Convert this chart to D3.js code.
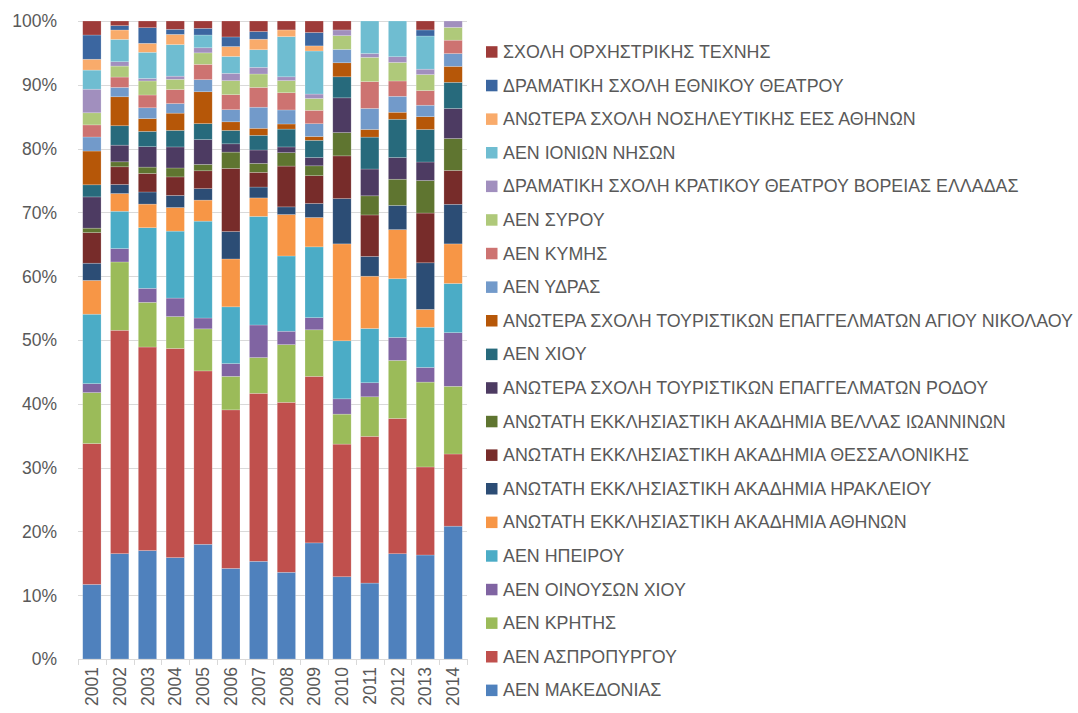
<!DOCTYPE html>
<html>
<head>
  <meta charset="UTF-8">
  <style>
    body { margin: 0; background: #fff; }
    svg { display: block; }
    text { font-family: "Liberation Sans", Arial, sans-serif; fill: #595959; }
  </style>
</head>
<body>
  <svg id="chart" width="1078" height="713"></svg>
  <script src="https://d3js.org/d3.v7.min.js"></script>
  <script>
    // years on the x axis
    var years = ["2001","2002","2003","2004","2005","2006","2007","2008","2009","2010","2011","2012","2013","2014"];
    var yTicks = [0, 0.1, 0.2, 0.3, 0.4, 0.5, 0.6, 0.7, 0.8, 0.9, 1];

    // shares (%) per school, bottom of the stack first
    var makedonias   = [11.7, 16.5, 17.0, 15.9, 18.0, 14.2, 15.3, 13.6, 18.2, 12.9, 11.9, 16.5, 16.3, 20.8];
    var aspropyrgou  = [22.1, 35.0, 31.9, 32.8, 27.2, 24.85, 26.3, 26.65, 26.1, 20.8, 23.0, 21.2, 13.8, 11.3];
    var kritis       = [8.0, 10.7, 7.0, 5.0, 6.6, 5.25, 5.6, 9.05, 7.3, 4.7, 6.2, 9.1, 13.3, 10.6];
    var oinousson    = [1.4, 2.1, 2.2, 2.9, 1.7, 2.0, 5.1, 2.1, 1.9, 2.4, 2.2, 3.6, 2.3, 8.4];
    var ipeirou      = [10.9, 5.85, 9.5, 10.5, 15.2, 8.9, 17.0, 11.8, 11.1, 9.1, 8.5, 9.2, 6.3, 7.7];
    var ekklAthinon  = [5.3, 2.77, 3.7, 3.7, 3.3, 7.5, 2.9, 6.5, 4.6, 15.2, 8.2, 7.7, 2.8, 6.2];
    var ekklIrakl    = [2.7, 1.42, 1.9, 1.9, 1.8, 4.3, 1.7, 1.2, 2.2, 7.1, 3.1, 3.8, 7.3, 6.2];
    var ekklThess    = [4.8, 2.77, 2.9, 2.9, 2.8, 9.9, 2.3, 6.4, 4.35, 6.7, 6.5, 0, 7.8, 5.3];
    var ekklVellas   = [0.7, 0.78, 1.0, 1.4, 1.0, 2.55, 1.4, 2.1, 1.55, 3.65, 3.0, 4.1, 5.1, 5.0];
    var tourRodou    = [4.9, 2.61, 3.2, 3.3, 3.9, 1.3, 2.1, 0.9, 1.3, 5.45, 4.2, 3.4, 2.9, 4.7];
    var chiou        = [1.9, 3.04, 2.4, 2.6, 2.5, 2.1, 2.3, 2.8, 2.7, 3.3, 5.0, 6.0, 5.1, 4.1];
    var tourAgNik    = [5.3, 4.54, 2.0, 2.7, 5.0, 1.35, 1.1, 0.8, 0.6, 2.2, 1.2, 1.1, 2.0, 2.5];
    var ydras        = [2.2, 1.47, 1.7, 1.5, 1.9, 1.9, 3.3, 2.2, 2.0, 2.1, 3.3, 2.5, 1.8, 2.0];
    var kymis        = [1.9, 1.62, 2.0, 2.2, 2.4, 2.35, 3.1, 2.7, 2.1, 0, 4.2, 2.4, 2.3, 2.1];
    var syrou        = [1.9, 1.72, 2.2, 1.6, 1.8, 2.2, 2.1, 1.9, 1.85, 2.15, 3.8, 2.9, 2.5, 2.0];
    var dramKratikou = [3.7, 0.68, 0.4, 0.5, 0.8, 1.15, 1.05, 0.6, 0.7, 0.9, 0.6, 0.9, 0.85, 1.0];
    var ionion       = [3.0, 3.5, 4.1, 4.95, 2.0, 2.65, 2.75, 6.3, 6.75, 0, 5.1, 5.6, 5.2, 0];
    var nosileftikis = [1.7, 1.47, 1.4, 1.6, 0, 1.55, 1.65, 1.05, 0.8, 0, 0, 0, 0, 0];
    var dramEthnikou = [3.8, 0.68, 2.45, 0.8, 1.05, 1.5, 1.2, 0, 2.1, 0, 0, 0, 0.95, 0];
    var orchistrikis = [2.2, 0.73, 1.05, 1.3, 1.15, 2.5, 1.65, 1.4, 1.8, 1.4, 0, 0, 1.4, 0];

    var seriesNames = [
      "ΑΕΝ ΜΑΚΕΔΟΝΙΑΣ",
      "ΑΕΝ ΑΣΠΡΟΠΥΡΓΟΥ",
      "ΑΕΝ ΚΡΗΤΗΣ",
      "ΑΕΝ ΟΙΝΟΥΣΩΝ ΧΙΟΥ",
      "ΑΕΝ ΗΠΕΙΡΟΥ",
      "ΑΝΩΤΑΤΗ ΕΚΚΛΗΣΙΑΣΤΙΚΗ ΑΚΑΔΗΜΙΑ ΑΘΗΝΩΝ",
      "ΑΝΩΤΑΤΗ ΕΚΚΛΗΣΙΑΣΤΙΚΗ ΑΚΑΔΗΜΙΑ ΗΡΑΚΛΕΙΟΥ",
      "ΑΝΩΤΑΤΗ ΕΚΚΛΗΣΙΑΣΤΙΚΗ ΑΚΑΔΗΜΙΑ ΘΕΣΣΑΛΟΝΙΚΗΣ",
      "ΑΝΩΤΑΤΗ ΕΚΚΛΗΣΙΑΣΤΙΚΗ ΑΚΑΔΗΜΙΑ ΒΕΛΛΑΣ ΙΩΑΝΝΙΝΩΝ",
      "ΑΝΩΤΕΡΑ ΣΧΟΛΗ ΤΟΥΡΙΣΤΙΚΩΝ ΕΠΑΓΓΕΛΜΑΤΩΝ ΡΟΔΟΥ",
      "ΑΕΝ ΧΙΟΥ",
      "ΑΝΩΤΕΡΑ ΣΧΟΛΗ ΤΟΥΡΙΣΤΙΚΩΝ ΕΠΑΓΓΕΛΜΑΤΩΝ ΑΓΙΟΥ ΝΙΚΟΛΑΟΥ",
      "ΑΕΝ ΥΔΡΑΣ",
      "ΑΕΝ ΚΥΜΗΣ",
      "ΑΕΝ ΣΥΡΟΥ",
      "ΔΡΑΜΑΤΙΚΗ ΣΧΟΛΗ ΚΡΑΤΙΚΟΥ ΘΕΑΤΡΟΥ ΒΟΡΕΙΑΣ ΕΛΛΑΔΑΣ",
      "ΑΕΝ ΙΟΝΙΩΝ ΝΗΣΩΝ",
      "ΑΝΩΤΕΡΑ ΣΧΟΛΗ ΝΟΣΗΛΕΥΤΙΚΗΣ ΕΕΣ ΑΘΗΝΩΝ",
      "ΔΡΑΜΑΤΙΚΗ ΣΧΟΛΗ ΕΘΝΙΚΟΥ ΘΕΑΤΡΟΥ",
      "ΣΧΟΛΗ ΟΡΧΗΣΤΡΙΚΗΣ ΤΕΧΝΗΣ"
    ];
    var seriesValues = [makedonias, aspropyrgou, kritis, oinousson, ipeirou, ekklAthinon, ekklIrakl,
      ekklThess, ekklVellas, tourRodou, chiou, tourAgNik, ydras, kymis, syrou, dramKratikou,
      ionion, nosileftikis, dramEthnikou, orchistrikis];
    var colors = ["#4F81BD", "#C0504D", "#9BBB59", "#8064A2", "#4BACC6", "#F79646",
      "#2C4D75", "#772C2A", "#5F7530", "#4D3B62", "#276A7C", "#B65708",
      "#729ACA", "#CD7371", "#AFC97A", "#A18FBE", "#6FBDD1", "#F9AB6B",
      "#3B66A0", "#9E3B39"];

    // rows for d3.stack
    var rows = years.map(function(y, i) {
      var r = { year: y };
      seriesNames.forEach(function(n, k) { r[n] = seriesValues[k][i]; });
      return r;
    });

    var svg = d3.select("#chart");
    var plotLeft = 78, plotRight = 467, plotTop = 21, plotBottom = 659;

    var x = d3.scaleBand().domain(years).range([plotLeft, plotRight]).paddingInner(0.34).paddingOuter(0.17);
    var y = d3.scaleLinear().domain([0, 1]).range([plotBottom, plotTop]);
    var color = d3.scaleOrdinal().domain(seriesNames).range(colors);

    // gridlines
    svg.append("g").selectAll("line").data(yTicks.slice(1)).join("line")
      .attr("x1", plotLeft).attr("x2", plotRight)
      .attr("y1", function(d) { return Math.round(y(d)) + 0.5; })
      .attr("y2", function(d) { return Math.round(y(d)) + 0.5; })
      .attr("stroke", "#d9d9d9").attr("stroke-width", 1);

    // y labels
    svg.append("g").selectAll("text").data(yTicks).join("text")
      .attr("x", 57).attr("y", function(d) { return y(d); })
      .attr("dy", "0.36em").attr("text-anchor", "end")
      .style("font-size", "17.5px")
      .text(d3.format(".0%"));

    var stack = d3.stack().keys(seriesNames).offset(d3.stackOffsetExpand);
    var layers = stack(rows);

    svg.append("g").selectAll("g").data(layers).join("g")
      .attr("fill", function(d) { return color(d.key); })
      .selectAll("rect").data(function(d) { return d; }).join("rect")
      .attr("x", function(d) { return x(d.data.year); })
      .attr("width", x.bandwidth())
      .attr("y", function(d) { return y(d[1]); })
      .attr("height", function(d) { return Math.max(0, y(d[0]) - y(d[1])); })
      .attr("stroke", "rgba(255,255,255,0.35)").attr("stroke-width", 0.6);

    // x axis
    var xAxis = svg.append("g");
    xAxis.append("line").attr("x1", plotLeft).attr("x2", plotRight)
      .attr("y1", plotBottom + 0.5).attr("y2", plotBottom + 0.5)
      .attr("stroke", "#d9d9d9").attr("stroke-width", 1);
    var edges = years.map(function(yr) { return x(yr) - x.step() * x.paddingInner() / 2; });
    edges.push(plotRight);
    edges[0] = plotLeft;
    xAxis.selectAll("line.tick").data(edges).join("line").attr("class", "tick")
      .attr("x1", function(d) { return Math.round(d) + 0.5; })
      .attr("x2", function(d) { return Math.round(d) + 0.5; })
      .attr("y1", plotBottom).attr("y2", plotBottom + 6)
      .attr("stroke", "#d9d9d9");
    xAxis.selectAll("text").data(years).join("text")
      .attr("transform", function(d) {
        return "translate(" + (x(d) + x.bandwidth() / 2) + "," + 667 + ") rotate(-90)";
      })
      .attr("dy", "0.35em").attr("text-anchor", "end")
      .style("font-size", "17.5px")
      .text(function(d) { return d; });

    // legend, top entry = top of stack
    var legendNames = seriesNames.slice().reverse();
    var legend = svg.append("g").selectAll("g").data(legendNames).join("g")
      .attr("transform", function(d, i) { return "translate(486," + (51.7 + i * 33.6) + ")"; });
    legend.append("rect").attr("x", 0).attr("y", -5.5).attr("width", 11.5).attr("height", 11.5)
      .attr("fill", function(d) { return color(d); });
    var labels = legend.append("text").attr("x", 17).attr("dy", "0.36em")
      .style("font-size", "17.5px")
      .text(function(d) { return d; });

    // fit the labels so the longest one spans like the original
    var widths = [];
    labels.each(function() { widths.push(this.getComputedTextLength()); });
    var k = 570 / d3.max(widths);
    labels.each(function(d, i) {
      d3.select(this).attr("textLength", widths[i] * k).attr("lengthAdjust", "spacingAndGlyphs");
    });
  </script>
</body>
</html>
